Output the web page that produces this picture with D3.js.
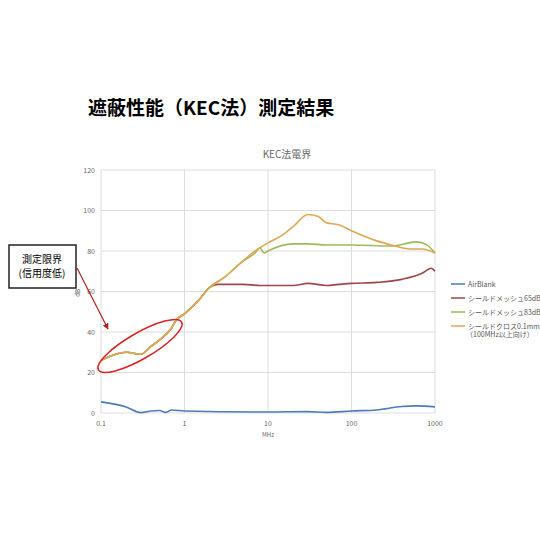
<!DOCTYPE html>
<html><head><meta charset="utf-8">
<script src="https://cdn.jsdelivr.net/npm/d3@7"></script>
<style>body{margin:0;background:#fff}svg{font-family:"Noto Sans CJK JP","Noto Sans",sans-serif}</style>
</head><body>
<script>
// freq (MHz) / dB
const airFreq = [0.1,0.2,0.3,0.4,0.5,0.6,0.7,1,10,30,50,100,200,400,600,1000];
const airVal = [5.5,3,0.2,1,1.2,0.3,1.5,1,0.5,0.7,0.3,1,1.5,3.2,3.5,3];
const lowFreq = [0.1,0.15,0.2,0.3,0.4,0.5,0.7,0.8,1,1.5,2];
const lowVal = [26,29,30,29,33,36,42,46,49,56,62];
const m65Freq = lowFreq.concat([2.5,5,8,20,30,50,70,100,200,400,700,900,1000]);
const m65Val = lowVal.concat([63.5,63.5,63,63,64,63,63.5,64,64.5,66,69,71.5,70]);
const m83Freq = lowFreq.concat([3,5,7,8,9,10,20,30,50,70,100,300,600,800,1000]);
const m83Val = lowVal.concat([67,75,79,81.5,79,80,83.5,83.5,83,83,83,82.5,84.5,83,79]);
const clothFreq = lowFreq.concat([3,5,7,10,15,20,30,40,50,70,100,200,300,500,700,1000]);
const clothVal = lowVal.concat([67,75,80,84,88,92,98,97,94,93,90,85,83,81,81,79]);
const seriesNames = ["AirBlank","シールドメッシュ65dB","シールドメッシュ83dB","シールドクロス0.1mm"];
const seriesColors = ["#4a7ebb","#a0464a","#9bbb59","#e0a852"];
const yTicks = [0,20,40,60,80,100,120];
const xTicks = [0.1,1,10,100,1000];

const svg = d3.select("body").append("svg").attr("width",540).attr("height",540);
const x = d3.scaleLog().domain([0.1,1000]).range([101,435]);
const y = d3.scaleLinear().domain([0,120]).range([413,170]);

svg.append("text").attr("x",88).attr("y",115).attr("font-size",19).attr("font-weight","bold").text("遮蔽性能（KEC法）測定結果");
svg.append("text").attr("x",287).attr("y",158).attr("text-anchor","middle").attr("font-size",10).attr("fill","#666").text("KEC法電界");

svg.append("g").selectAll("line").data(yTicks).join("line")
  .attr("x1",101).attr("x2",435).attr("y1",d=>y(d)).attr("y2",d=>y(d)).attr("stroke","#ddd");
svg.append("g").selectAll("line").data(xTicks).join("line")
  .attr("x1",d=>x(d)).attr("x2",d=>x(d)).attr("y1",170).attr("y2",413).attr("stroke","#ddd");
svg.append("g").selectAll("text").data(yTicks).join("text")
  .attr("x",95).attr("y",d=>y(d)+2.5).attr("text-anchor","end").attr("font-size",7).attr("fill","#666").text(d=>d);
svg.append("g").selectAll("text").data(xTicks).join("text")
  .attr("x",d=>x(d)).attr("y",426).attr("text-anchor","middle").attr("font-size",7).attr("fill","#666").text(d=>d);
svg.append("text").attr("x",268).attr("y",437).attr("text-anchor","middle").attr("font-size",6).attr("fill","#666").text("MHz");
svg.append("text").attr("transform","translate(80,293) rotate(-90)").attr("text-anchor","middle").attr("font-size",6).attr("fill","#666").text("dB");

const line = d3.line().x(d=>x(d[0])).y(d=>y(d[1])).curve(d3.curveMonotoneX);
const data = [[airFreq,airVal],[m65Freq,m65Val],[m83Freq,m83Val],[clothFreq,clothVal]];
data.forEach((s,i)=>{
  svg.append("path").attr("d",line(d3.zip(s[0],s[1]))).attr("fill","none")
    .attr("stroke",seriesColors[i]).attr("stroke-width",1.6);
});

const lg = svg.append("g");
seriesNames.forEach((n,i)=>{
  const yy = 284+i*14;
  lg.append("line").attr("x1",451).attr("x2",465).attr("y1",yy).attr("y2",yy).attr("stroke",seriesColors[i]).attr("stroke-width",1.5);
  lg.append("text").attr("x",468).attr("y",yy+2.5).attr("font-size",7).attr("fill","#555").text(n);
});
lg.append("text").attr("x",466).attr("y",337).attr("font-size",7).attr("fill","#555").text("（100MHz以上向け）");

// annotation
svg.append("ellipse").attr("cx",140).attr("cy",346).attr("rx",48).attr("ry",13)
  .attr("transform","rotate(-30,140,346)").attr("fill","none").attr("stroke","#d22").attr("stroke-width",1.5);
svg.append("defs").append("marker").attr("id","ah").attr("viewBox","0 0 10 10").attr("refX",9).attr("refY",5)
  .attr("markerWidth",5).attr("markerHeight",5).attr("orient","auto")
  .append("path").attr("d","M0,0L10,5L0,10z").attr("fill","#a22");
svg.append("line").attr("x1",77).attr("y1",268).attr("x2",108).attr("y2",329).attr("stroke","#a22").attr("stroke-width",1.2).attr("marker-end","url(#ah)");
svg.append("rect").attr("x",9).attr("y",245).attr("width",67).attr("height",43).attr("fill","#fff").attr("stroke","#222").attr("stroke-width",1.5);
svg.append("text").attr("x",42).attr("y",263).attr("text-anchor","middle").attr("font-size",10).text("測定限界");
svg.append("text").attr("x",42).attr("y",277).attr("text-anchor","middle").attr("font-size",10).text("(信用度低)");
</script>
</body></html>
